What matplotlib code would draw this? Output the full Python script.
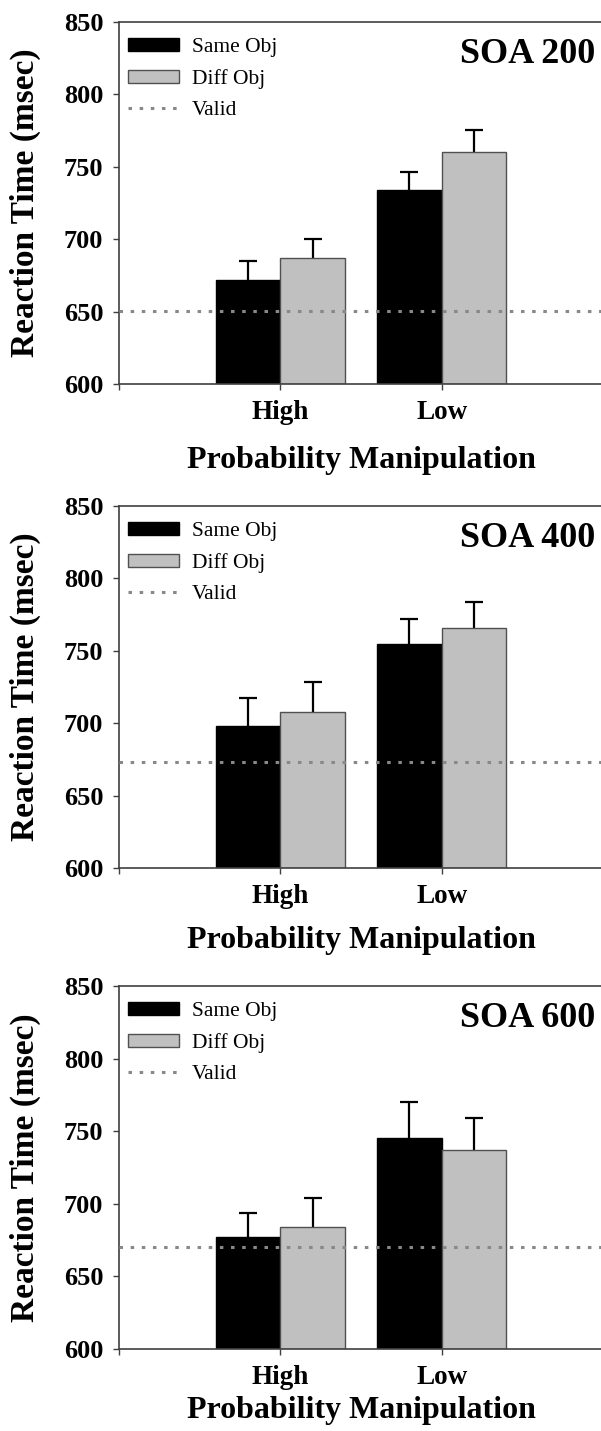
#!/usr/bin/env python3
"""Reaction time by probability manipulation, three SOA panels."""

import matplotlib

matplotlib.use("Agg")
import matplotlib.pyplot as plt
import numpy as np

categories = ["High", "Low"]
panel_titles = ["SOA 200", "SOA 400", "SOA 600"]

same_obj = [[671.8, 734.0], [698.1, 754.7], [677.1, 745.3]]
same_err = [[13.4, 12.6], [19.3, 17.3], [16.6, 24.8]]
diff_obj = [[686.8, 760.0], [707.7, 765.7], [684.0, 737.1]]
diff_err = [[13.3, 15.4], [20.8, 18.0], [20.0, 22.0]]
valid_rt = [650.4, 673.2, 670.2]

y_ticks = [600, 650, 700, 750, 800, 850]

# axes boxes in pixels (top, bottom) on a 601 x 1431 canvas
panel_px = [(22, 384), (506, 868), (986, 1349)]
xlabel_baseline = [468, 948, 1418]

plt.rcParams["font.family"] = ["Liberation Serif", "DejaVu Serif"]

W, H = 601, 1431
fig = plt.figure(figsize=(W / 100, H / 100), dpi=100)

left_px, right_px = 119, 603
dotted = (0, (1.15, 2.5))


def upper_errorbar(ax, xs, vals, errs):
    eb = ax.errorbar(xs, vals, yerr=[np.zeros(len(errs)), errs], fmt="none",
                     ecolor="black", elinewidth=1.6, capsize=6.7, capthick=1.6, zorder=1)
    # drop the cap that sits on the bar top, keep only the upper one
    caps = eb.lines[1]
    if caps:
        caps[0].set_visible(False)
    return eb


for i in range(3):
    top, bottom = panel_px[i]
    ax = fig.add_axes([left_px / W, 1 - bottom / H, (right_px - left_px) / W, (bottom - top) / H])

    x = np.arange(1, len(categories) + 1)
    w = 0.4
    b1 = ax.bar(x - w / 2, np.array(same_obj[i]) - 600, w, bottom=600, color="black",
                edgecolor="black", linewidth=1, label="Same Obj", zorder=2)
    b2 = ax.bar(x + w / 2, np.array(diff_obj[i]) - 600, w, bottom=600, color="#c0c0c0",
                edgecolor="#505050", linewidth=1, label="Diff Obj", zorder=2)
    upper_errorbar(ax, x - w / 2, same_obj[i], same_err[i])
    upper_errorbar(ax, x + w / 2, diff_obj[i], diff_err[i])
    ln = ax.axhline(valid_rt[i], color="#888888", linewidth=2.2, linestyle=dotted,
                    label="Valid", zorder=3)

    ax.set_xlim(0, 3)
    ax.set_ylim(600, 850)
    ax.set_yticks(y_ticks)
    ax.set_xticks(x)
    ax.set_xticklabels(categories)
    ax.set_xticks([0], minor=True)

    for side in ("left", "bottom", "top"):
        ax.spines[side].set_color("#404040")
        ax.spines[side].set_linewidth(1.2)
    ax.spines["right"].set_visible(False)

    ax.tick_params(axis="both", which="both", direction="out", length=4.3, width=1,
                   color="#404040")
    ax.tick_params(axis="y", labelsize=19, pad=7)
    ax.tick_params(axis="x", labelsize=19.5, pad=7)
    for lbl in ax.get_xticklabels() + ax.get_yticklabels():
        lbl.set_fontweight("bold")

    ax.set_ylabel("Reaction Time (msec)", fontsize=24, fontweight="bold")
    ax.yaxis.set_label_coords(-(119 - 25) / (right_px - left_px), 0.5)
    ax.yaxis.label.set_va("center")

    ax.set_xlabel("Probability Manipulation", fontsize=23, fontweight="bold", va="baseline")
    ax.xaxis.set_label_coords(0.5, -(xlabel_baseline[i] - bottom) / (bottom - top))

    ax.text((595 - left_px) / (right_px - left_px), 1 - 41 / (bottom - top), panel_titles[i],
            transform=ax.transAxes, ha="right", va="baseline", fontsize=26,
            fontweight="bold")

    ax.legend(handles=[b1, b2, ln], loc="upper left",
              bbox_to_anchor=((128 - left_px) / (right_px - left_px), 1 - 16 / (bottom - top)),
              borderaxespad=0, borderpad=0, frameon=False, fontsize=15.5,
              handlelength=2.35, handleheight=0.55, handletextpad=0.6, labelspacing=0.55)

fig.savefig("out.png", dpi=100)
